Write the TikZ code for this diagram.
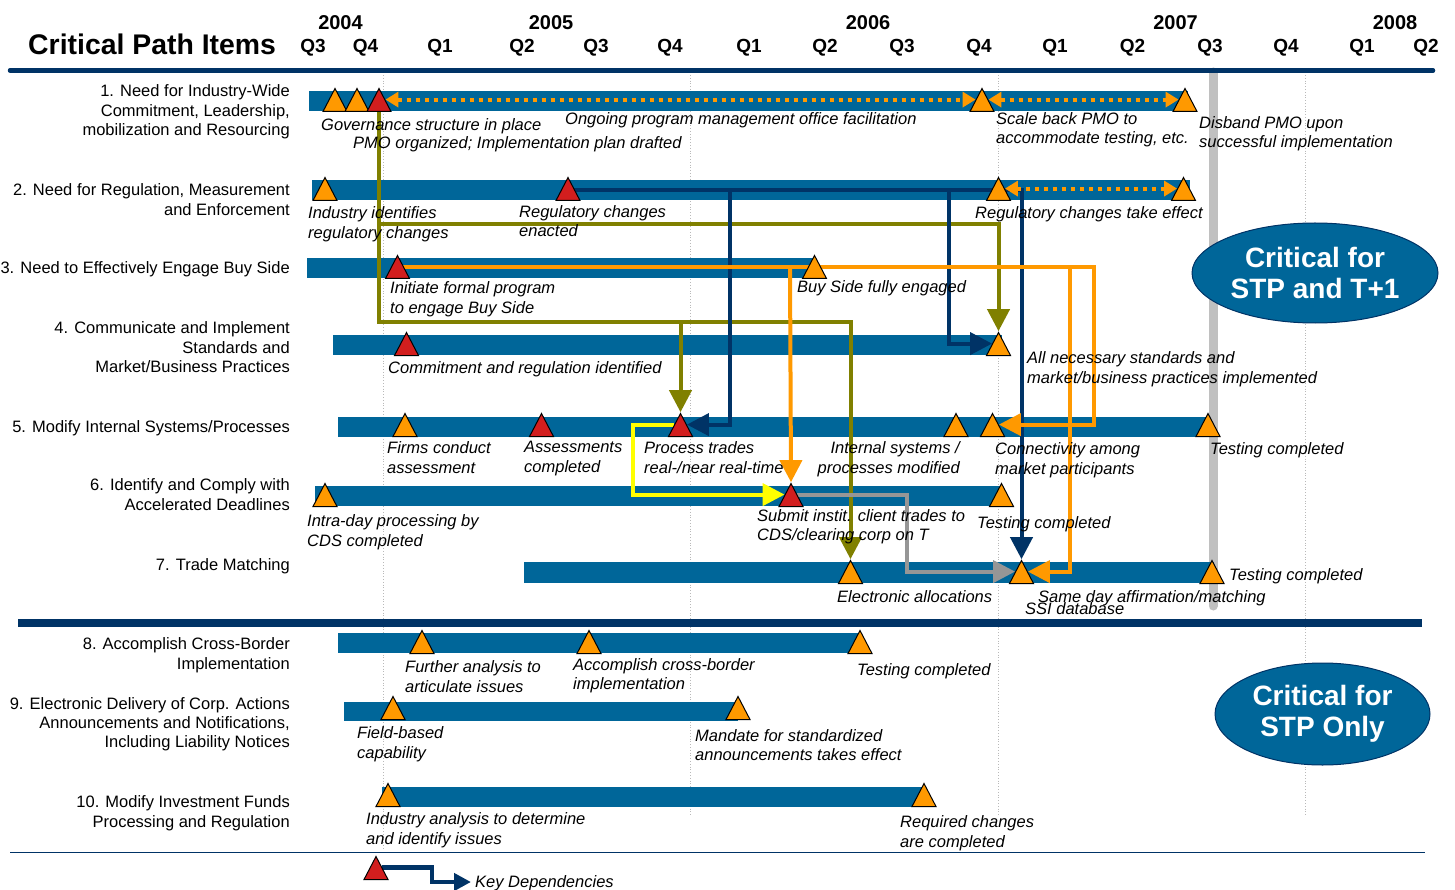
\documentclass[tikz,border=0pt]{standalone}
\usepackage{fontspec}
\setmainfont{Liberation Sans}
\usetikzlibrary{arrows.meta,shapes.geometric,calc}
\pgfdeclarelayer{back}
\pgfdeclarelayer{mid}
\pgfsetlayers{back,mid,main}
\definecolor{barblue}{RGB}{0,102,153}
\definecolor{navy}{RGB}{0,51,102}
\definecolor{olv}{RGB}{128,128,0}
\definecolor{orng}{RGB}{255,153,0}
\definecolor{trired}{RGB}{210,30,30}
\definecolor{gryc}{RGB}{150,150,150}
\definecolor{gryl}{RGB}{192,192,192}
\definecolor{gridc}{RGB}{185,185,185}
\definecolor{yel}{RGB}{255,255,0}
\begin{document}
\begin{tikzpicture}[x=1pt,y=-1pt,
  tri/.style={isosceles triangle, shape border rotate=90, isosceles triangle stretches,
    minimum width=24pt, minimum height=23pt, inner sep=0pt, draw=black, line width=1pt, anchor=lower side},
  otri/.style={tri, fill=orng},
  rtri/.style={tri, fill=trired},
  lab/.style={font=\fontsize{16.5}{19.5}\selectfont, inner sep=0pt, anchor=base east},
  ilab/.style={font=\fontsize{16.5}{19.5}\selectfont\itshape, inner sep=0pt, anchor=base west},
  ilabe/.style={ilab, anchor=base east},
  hq/.style={font=\fontsize{19}{22}\selectfont\bfseries, inner sep=0pt, anchor=base},
  conn/.style={line width=4pt, -{Triangle[length=22pt,width=22pt]}},
  dotarr/.style={orng, line width=4pt, dash pattern=on 4pt off 5pt,
    {Triangle[length=13pt,width=15pt]}-{Triangle[length=13pt,width=15pt]}},
  grid/.style={gridc, line width=0.8pt, dotted},
  oval/.style={ellipse, fill=barblue, draw=navy, line width=1pt, text=white,
    font=\fontsize{28}{30.5}\selectfont\bfseries, align=center, inner sep=0pt}
]
\useasboundingbox (0,0) rectangle (1455,890);

\begin{pgfonlayer}{back}
  % grid
  \draw[grid] (383,75) -- (383,850);
  \draw[grid] (690,75) -- (690,815);
  \draw[grid] (998,75) -- (998,815);
  \draw[grid] (1305,75) -- (1305,815);
  \draw[gryl, line width=9pt, line cap=round] (1213,72) -- (1213,606);
  % rules
  \draw[navy, line width=4.5pt, line cap=round] (10,70.5) -- (1433,70.5);
  \draw[navy, line width=8pt] (18,622.5) -- (1422,622.5);
  \draw[navy, line width=1.8pt] (10,852.5) -- (1425,852.5);
  % bars
  \fill[barblue] (309,91) rectangle (1188,111);
  \fill[barblue] (312,180) rectangle (1190,200);
  \fill[barblue] (307,258) rectangle (814,278);
  \fill[barblue] (333,335) rectangle (1002,355);
  \fill[barblue] (338,417) rectangle (1210,437);
  \fill[barblue] (315,486) rectangle (1000,506);
  \fill[barblue] (524,562) rectangle (1214,583);
  \fill[barblue] (338,633) rectangle (860,653);
  \fill[barblue] (344,702) rectangle (738,721);
  \fill[barblue] (382,787) rectangle (925,807);
\end{pgfonlayer}

% header
\node[font=\fontsize{28.4}{32}\selectfont\bfseries, inner sep=0pt, anchor=base west] (title) at (28,55) {Critical Path Items};
\node[hq, font=\fontsize{20}{22}\selectfont\bfseries] (y04) at (340.5,30) {2004};
\node[hq, font=\fontsize{20}{22}\selectfont\bfseries] (y05) at (551,30) {2005};
\node[hq, font=\fontsize{20}{22}\selectfont\bfseries] (y06) at (868,30) {2006};
\node[hq, font=\fontsize{20}{22}\selectfont\bfseries] (y07) at (1175.5,30) {2007};
\node[hq, font=\fontsize{20}{22}\selectfont\bfseries] (y08) at (1395,30) {2008};
\node[hq] (q1) at (313,53) {Q3};
\node[hq] (q2) at (365.5,53) {Q4};
\node[hq] (q3) at (440,53) {Q1};
\node[hq] (q4) at (522,53) {Q2};
\node[hq] (q5) at (596,53) {Q3};
\node[hq] (q6) at (670,53) {Q4};
\node[hq] (q7) at (749,53) {Q1};
\node[hq] (q8) at (825,53) {Q2};
\node[hq] (q9) at (902,53) {Q3};
\node[hq] (q10) at (979,53) {Q4};
\node[hq] (q11) at (1055,53) {Q1};
\node[hq] (q12) at (1132.5,53) {Q2};
\node[hq] (q13) at (1210,53) {Q3};
\node[hq] (q14) at (1286,53) {Q4};
\node[hq] (q15) at (1362,53) {Q1};
\node[hq] (q16) at (1426,53) {Q2};

% triangles
\node[otri] (t1a) at (335,112) {};
\node[otri] (t1b) at (357,112) {};
\node[rtri] (t1c) at (379,112) {};
\node[otri] (t1d) at (982,112) {};
\node[otri] (t1e) at (1185,112) {};
\node[otri] (t2a) at (325,201) {};
\node[rtri] (t2b) at (568,201) {};
\node[otri] (t2c) at (998.5,201) {};
\node[otri] (t2d) at (1183.5,201) {};
\node[rtri] (t3a) at (397.5,279) {};
\node[otri] (t3b) at (814.5,279) {};
\node[rtri] (t4a) at (406.5,356) {};
\node[otri] (t4b) at (998.5,356) {};
\node[otri] (t5a) at (405,437) {};
\node[rtri] (t5b) at (541.5,437) {};
\node[rtri] (t5c) at (680.5,437) {};
\node[otri] (t5d) at (956,437) {};
\node[otri] (t5e) at (992.5,437) {};
\node[otri] (t5f) at (1208,437) {};
\node[otri] (t6a) at (325,507) {};
\node[rtri] (t6b) at (791,507) {};
\node[otri] (t6c) at (1001.5,507) {};
\node[otri] (t7a) at (850.5,584) {};
\node[otri] (t7b) at (1021.5,584) {};
\node[otri] (t7c) at (1212,584) {};
\node[otri] (t8a) at (422,654) {};
\node[otri] (t8b) at (589,654) {};
\node[otri] (t8c) at (860,654) {};
\node[otri] (t9a) at (393,720) {};
\node[otri] (t9b) at (738,720) {};
\node[otri] (t10a) at (388,807) {};
\node[otri] (t10b) at (924,807) {};
\node[rtri] (lg) at (376,880) {};

% connectors
\begin{pgfonlayer}{mid}
  % olive
  \coordinate (olA) at (t1c.lower side |- 0,322);
  \coordinate (olB) at (t1c.lower side |- 0,224);
  \coordinate (olC) at (t5c.apex |- 0,322);
  \draw[conn, olv] (t1c.lower side) -- (olA) -| (t7a.apex);
  \draw[conn, olv] (olC) -- (t5c.apex);
  \draw[conn, olv] (olB) -| (t4b.apex);
  % navy
  \coordinate (nvA) at (t2b.apex |- 0,190);
  \coordinate (nvB) at (730,190);
  \coordinate (nvC) at (949,190);
  \draw[conn, navy] (nvA) -| (t7b.apex);
  \draw[conn, navy] (nvB) |- (t5c.right side);
  \draw[conn, navy] (nvC) |- (t4b.left side);
  % orange
  \coordinate (orA) at (t3a.apex |- 0,267);
  \coordinate (orB) at (1094,267);
  \coordinate (orC) at (790,267);
  \coordinate (orD) at (1070,267);
  \draw[conn, orng] (orA) -- (orB) |- (t5e.right side);
  \draw[conn, orng] (orC) -- (t6b.apex);
  \draw[conn, orng] (orD) |- (t7b.right side);
  % yellow
  \coordinate (ylA) at (633,460);
  \draw[conn, yel] (t5c.left side) -| (ylA) |- (t6b.left side);
  % gray
  \coordinate (gyA) at (907,530);
  \draw[conn, gryc] (t6b.right side) -| (gyA) |- (t7b.left side);
  % dotted PMO arrows
  \draw[dotarr] (t1c.right side) -- (t1d.left side);
  \draw[dotarr] (t1d.right side) -- (t1e.left side);
  \draw[dotarr] (t2c.right side) -- (t2d.left side);
  % legend
  \coordinate (lgA) at (432,875);
  \coordinate (lgE) at (471,882);
  \draw[navy, line width=4.5pt, -{Triangle[length=17pt,width=17pt]}] (lg.right side) -| (lgA) |- (lgE);
\end{pgfonlayer}

% left labels
\node[lab] (r1a) at (290,97) {1. Need for Industry-Wide};
\node[lab] (r1b) at (290,116.5) {Commitment, Leadership,};
\node[lab] (r1c) at (290,136) {mobilization and Resourcing};
\node[lab] (r2a) at (290,196) {2. Need for Regulation, Measurement};
\node[lab] (r2b) at (290,215.5) {and Enforcement};
\node[lab] (r3a) at (290,274) {3. Need to Effectively Engage Buy Side};
\node[lab] (r4a) at (290,334) {4. Communicate and Implement};
\node[lab] (r4b) at (290,353) {Standards and};
\node[lab] (r4c) at (290,372) {Market/Business Practices};
\node[lab] (r5a) at (290,432) {5. Modify Internal Systems/Processes};
\node[lab] (r6a) at (290,490) {6. Identify and Comply with};
\node[lab] (r6b) at (290,510) {Accelerated Deadlines};
\node[lab] (r7a) at (290,570) {7. Trade Matching};
\node[lab] (r8a) at (290,649) {8. Accomplish Cross-Border};
\node[lab] (r8b) at (290,669) {Implementation};
\node[lab] (r9a) at (290,709) {9. Electronic Delivery of Corp. Actions};
\node[lab] (r9b) at (290,728) {Announcements and Notifications,};
\node[lab] (r9c) at (290,747) {Including Liability Notices};
\node[lab] (r10a) at (290,807) {10. Modify Investment Funds};
\node[lab] (r10b) at (290,827) {Processing and Regulation};

% milestone labels
\node[ilab] (m1a) at (321,131) {Governance structure in place};
\node[ilab] (m1b) at (353,149) {PMO organized; Implementation plan drafted};
\node[ilab] (m1c) at (565,125) {Ongoing program management office facilitation};
\node[ilab] (m1d) at (996,125) {Scale back PMO to};
\node[ilab] (m1e) at (996,144) {accommodate testing, etc.};
\node[ilab] (m1f) at (1199,129) {Disband PMO upon};
\node[ilab] (m1g) at (1199,148) {successful implementation};
\node[ilab] (m2a) at (308,219) {Industry identifies};
\node[ilab] (m2b) at (308,239) {regulatory changes};
\node[ilab] (m2c) at (519,218) {Regulatory changes};
\node[ilab] (m2d) at (519,237) {enacted};
\node[ilab] (m2e) at (975,219) {Regulatory changes take effect};
\node[ilab] (m3a) at (390,294) {Initiate formal program};
\node[ilab] (m3b) at (390,314) {to engage Buy Side};
\node[ilab] (m3c) at (797,293) {Buy Side fully engaged};
\node[ilab] (m4a) at (388,373) {Commitment and regulation identified};
\node[ilab] (m4b) at (1027,363) {All necessary standards and};
\node[ilab] (m4c) at (1027,383) {market/business practices implemented};
\node[ilab] (m5a) at (387,453) {Firms conduct};
\node[ilab] (m5b) at (387,473) {assessment};
\node[ilab] (m5c) at (524,452) {Assessments};
\node[ilab] (m5d) at (524,472) {completed};
\node[ilab] (m5e) at (644,453) {Process trades};
\node[ilab] (m5f) at (644,473) {real-/near real-time};
\node[ilabe] (m5g) at (960,453) {Internal systems /};
\node[ilabe] (m5h) at (960,473) {processes modified};
\node[ilab] (m5i) at (995,454) {Connectivity among};
\node[ilab] (m5j) at (995,474) {market participants};
\node[ilab] (m5k) at (1210,454) {Testing completed};
\node[ilab] (m6a) at (307,526) {Intra-day processing by};
\node[ilab] (m6b) at (307,546) {CDS completed};
\node[ilab] (m6c) at (757,521) {Submit instit. client trades to};
\node[ilab] (m6d) at (757,540) {CDS/clearing corp on T};
\node[ilab] (m6e) at (977,528) {Testing completed};
\node[ilab] (m7a) at (837,602) {Electronic allocations};
\node[ilab] (m7b) at (1038,602) {Same day affirmation/matching};
\node[ilab] (m7c) at (1025,614) {SSI database};
\node[ilab] (m7d) at (1229,580) {Testing completed};
\node[ilab] (m8a) at (405,672) {Further analysis to};
\node[ilab] (m8b) at (405,692) {articulate issues};
\node[ilab] (m8c) at (573,670) {Accomplish cross-border};
\node[ilab] (m8d) at (573,689) {implementation};
\node[ilab] (m8e) at (857,675) {Testing completed};
\node[ilab] (m9a) at (357,738) {Field-based};
\node[ilab] (m9b) at (357,758) {capability};
\node[ilab] (m9c) at (695,741) {Mandate for standardized};
\node[ilab] (m9d) at (695,760) {announcements takes effect};
\node[ilab] (m10a) at (366,824) {Industry analysis to determine};
\node[ilab] (m10b) at (366,844) {and identify issues};
\node[ilab] (m10c) at (900,827) {Required changes};
\node[ilab] (m10d) at (900,847) {are completed};
\node[ilab] (lgt) at (475,887) {Key Dependencies};

% ovals
\node[oval, minimum width=246pt, minimum height=100pt] (e1) at (1315,273) {Critical for\\STP and T+1};
\node[oval, minimum width=215pt, minimum height=102pt] (e2) at (1322.5,714) {Critical for\\STP Only};
\end{tikzpicture}
\end{document}
